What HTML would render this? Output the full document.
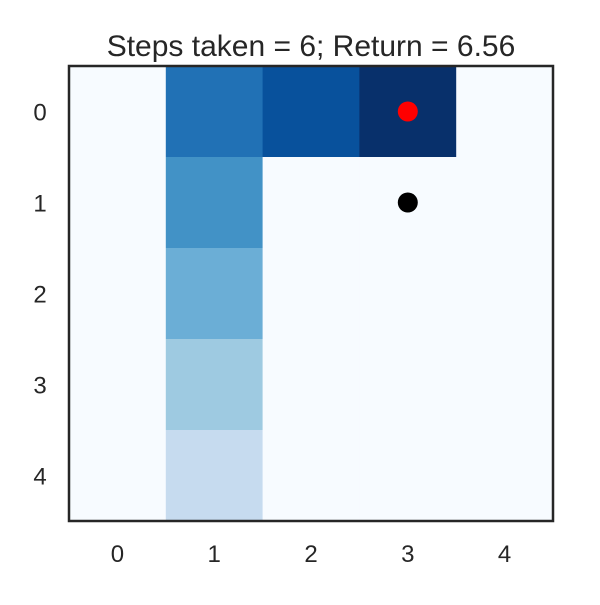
<!DOCTYPE html>
<html><head><meta charset="utf-8"><style>
body{margin:0;background:#fff;}
svg text{font-family:"Liberation Sans",sans-serif;fill:#262626;}
</style></head><body>
<svg id="chart" width="600" height="600">
<text x="311" y="56" font-size="30" text-anchor="middle">Steps taken = 6; Return = 6.56</text>
<g id="cells"></g>
<g id="ticks"></g>
<g id="points"></g>
<rect x="69" y="66" width="484" height="455" fill="none" stroke="#262626" stroke-width="2.5"/>
</svg>
<script>
const rows = [0,1,2,3,4];
const cols = [0,1,2,3,4];
const values = [
 [0,6,7,8,0],
 [0,5,0,0,0],
 [0,4,0,0,0],
 [0,3,0,0,0],
 [0,2,0,0,0]
];
const vmax = 8;
const agentPos = [3,0];
const goalPos = [3,1];
const tickLabels = ["0","1","2","3","4"];

const X0=69,Y0=66,W=484,H=455;
const cw=W/cols.length, ch=H/rows.length;
const xs=c=>X0+c*cw, ys=r=>Y0+r*ch;
const stops=["#f7fbff","#deebf7","#c6dbef","#9ecae1","#6baed6","#4292c6","#2171b5","#08519c","#08306b"];
function hex(h){return [1,3,5].map(i=>parseInt(h.substr(i,2),16));}
function color(v){
 const t=Math.max(0,Math.min(1,v/vmax))*(stops.length-1);
 const i=Math.min(stops.length-2,Math.floor(t)), f=t-i;
 const a=hex(stops[i]),b=hex(stops[i+1]);
 return "rgb("+a.map((x,k)=>Math.round(x+(b[k]-x)*f)).join(",")+")";
}
const NS="http://www.w3.org/2000/svg";
const g=document.getElementById("cells");
rows.forEach(r=>cols.forEach(c=>{
 const el=document.createElementNS(NS,"rect");
 el.setAttribute("x",xs(c));el.setAttribute("y",ys(r));
 el.setAttribute("width",cw+0.5);el.setAttribute("height",ch+0.5);
 el.setAttribute("fill",color(values[r][c]));
 
 
 g.appendChild(el);
}));
const tg=document.getElementById("ticks");
cols.forEach((c,i)=>{
 const t=document.createElementNS(NS,"text");
 t.setAttribute("x",xs(c)+cw/2);t.setAttribute("y",562);
 t.setAttribute("font-size","24");t.setAttribute("text-anchor","middle");
 t.textContent=tickLabels[i];
 
 
 tg.appendChild(t);
});
rows.forEach((r,i)=>{
 const t=document.createElementNS(NS,"text");
 t.setAttribute("x",40);t.setAttribute("y",ys(r)+ch/2+9);
 t.setAttribute("font-size","24");t.setAttribute("text-anchor","middle");
 t.textContent=tickLabels[i];
 
 
 tg.appendChild(t);
});
const pg=document.getElementById("points");
[[agentPos,"#ff0000","agent-marker"],[goalPos,"#000000","goal-marker"]].forEach(p=>{
 const c=document.createElementNS(NS,"circle");
 c.setAttribute("cx",xs(p[0][0])+cw/2);c.setAttribute("cy",ys(p[0][1])+ch/2);
 c.setAttribute("r",10);c.setAttribute("fill",p[1]);
 
 
 pg.appendChild(c);
});
</script>
</body></html>
